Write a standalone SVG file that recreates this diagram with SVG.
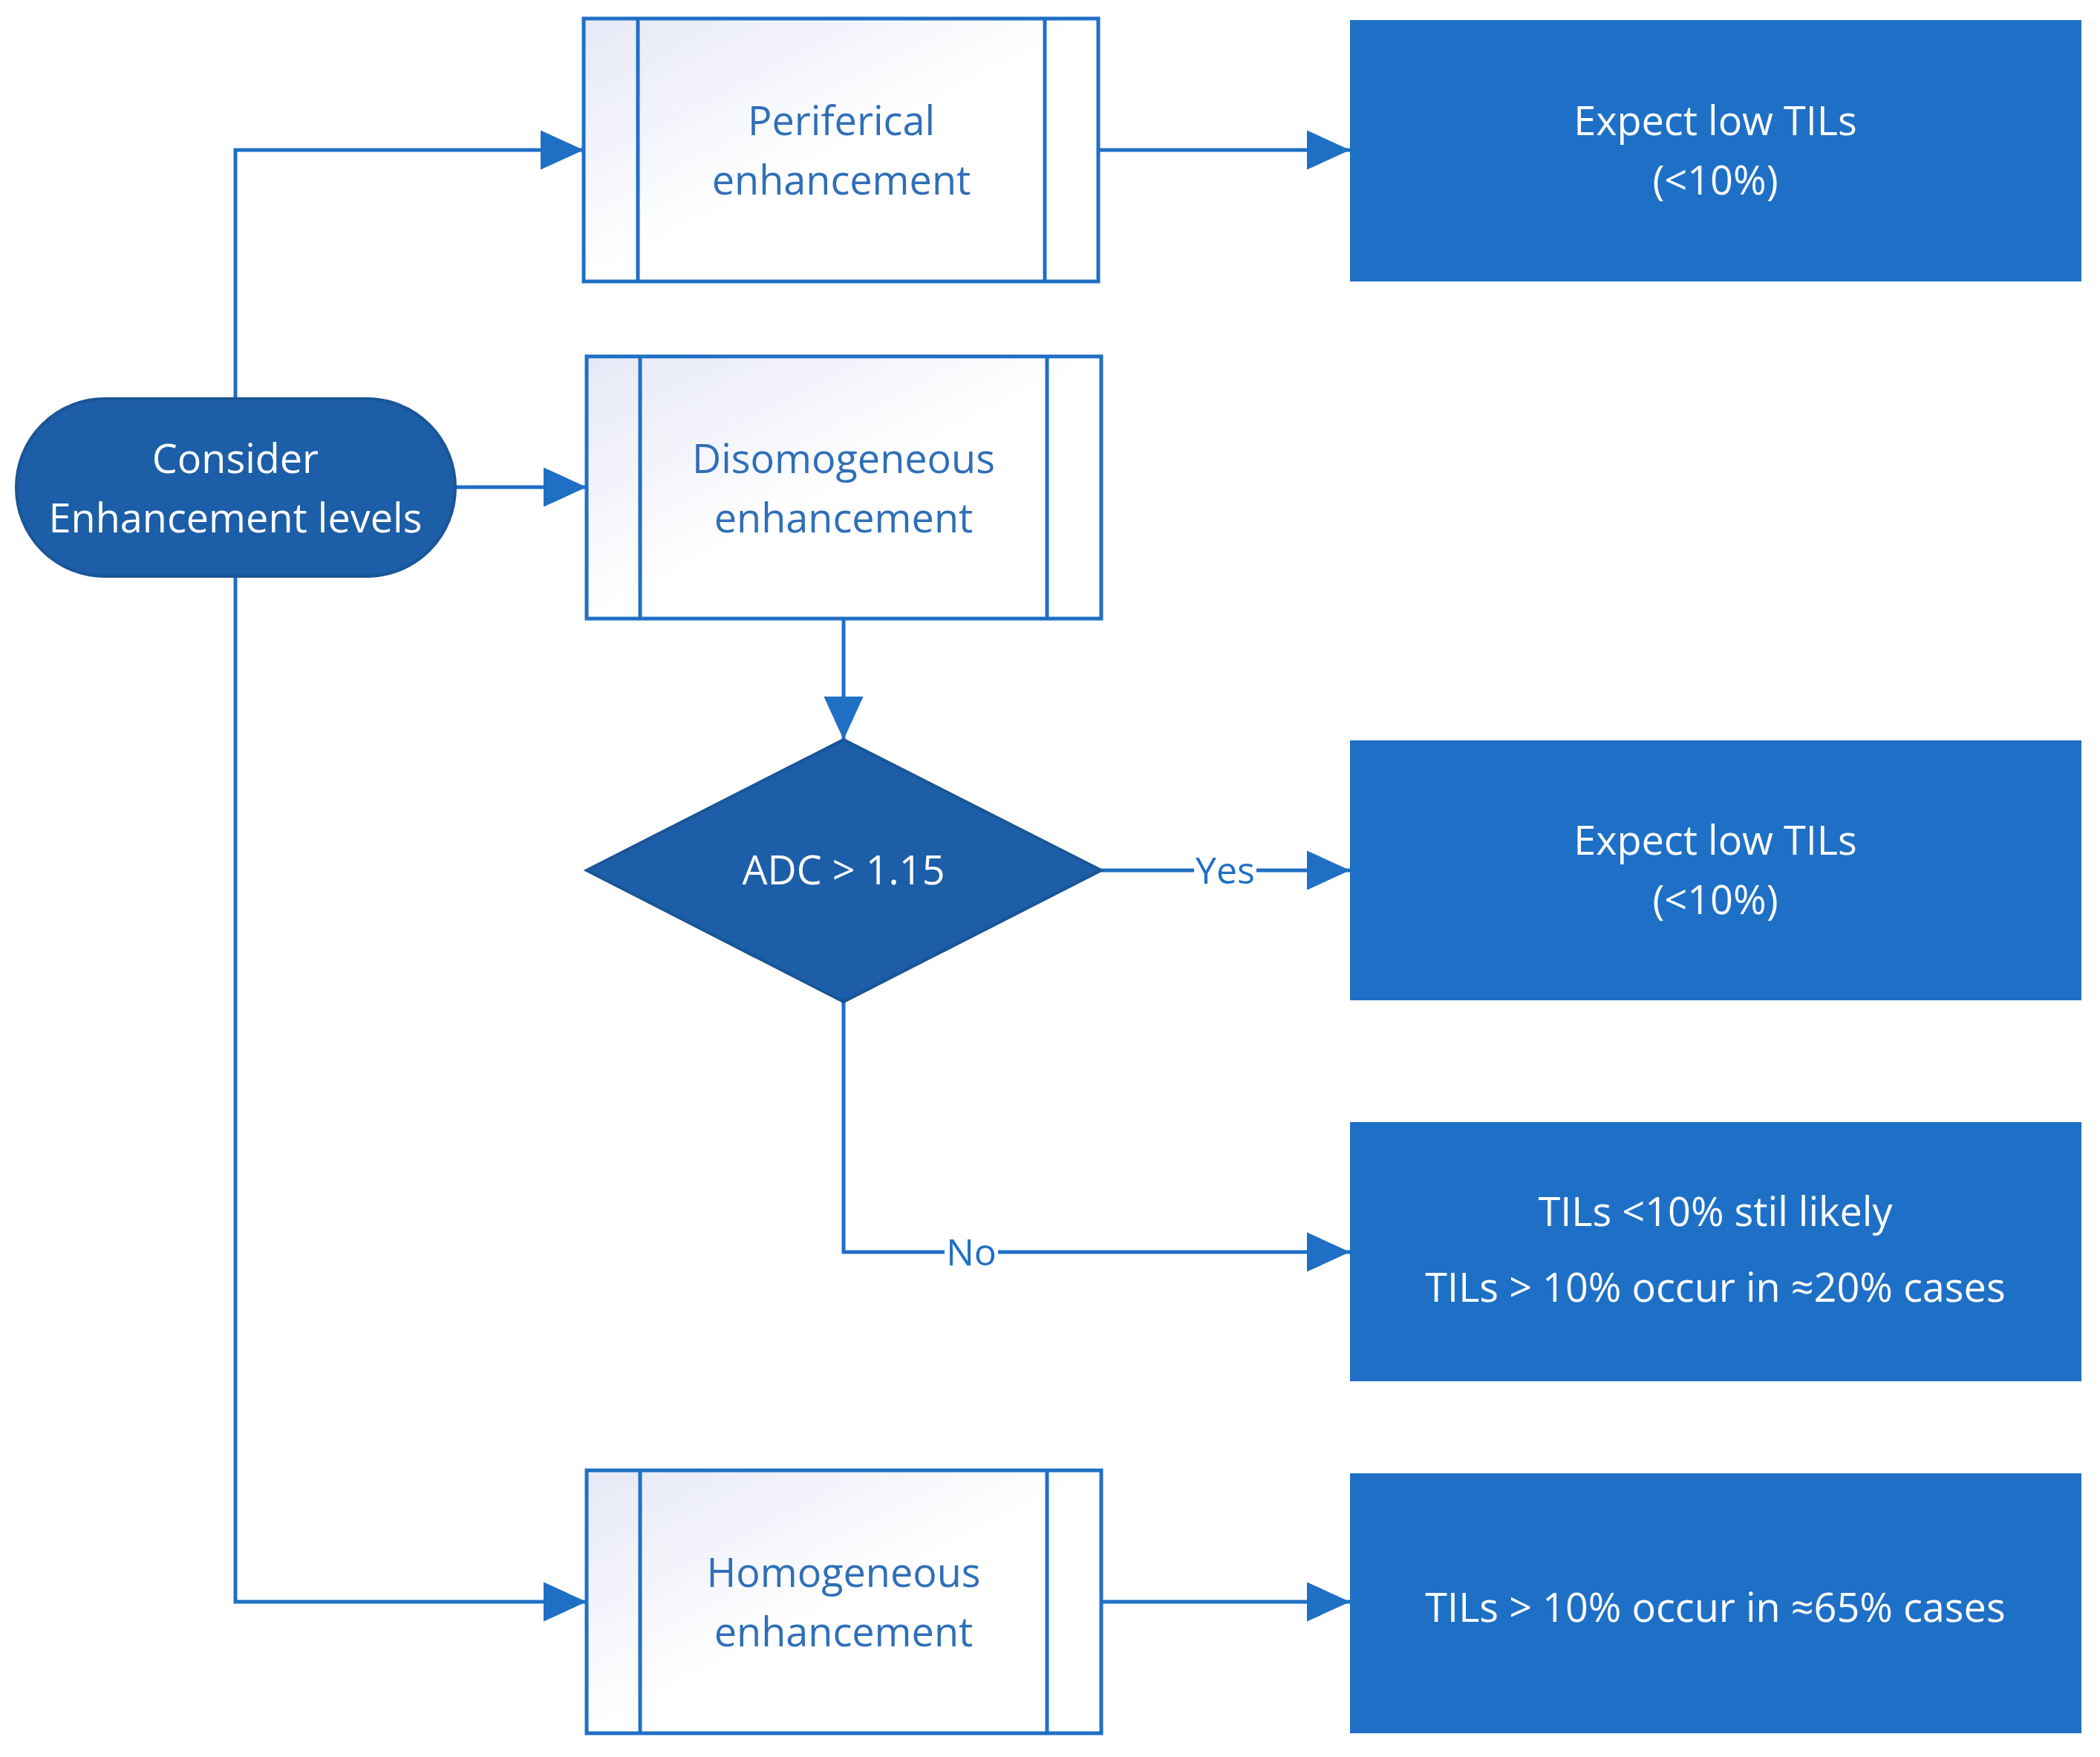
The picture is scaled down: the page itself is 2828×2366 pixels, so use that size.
<svg xmlns="http://www.w3.org/2000/svg" width="2828" height="2366" viewBox="0 0 2828 2366">
<style>
.line{fill:none;stroke:#1f6fc5;stroke-width:5}
.proc{fill:url(#g);stroke:#1f6fc5;stroke-width:5}
.res{fill:#1e70c6}
.dark{fill:#1c5ea8;stroke:#1a5596;stroke-width:4}
.tl{font-family:"Open Sans","Noto Sans",sans-serif;font-size:54px;fill:#2f6fb8;text-anchor:middle}
.tw{font-family:"Open Sans","Noto Sans",sans-serif;font-size:54px;fill:#ffffff;text-anchor:middle}
.lbl{font-family:"Open Sans","Noto Sans",sans-serif;font-size:50px;fill:#1f6fc5;text-anchor:middle}
</style>
<defs>
<linearGradient id="g" x1="0" y1="0" x2="1" y2="1"><stop offset="0" stop-color="#e6e8f6"/><stop offset="0.5" stop-color="#ffffff"/><stop offset="1" stop-color="#ffffff"/></linearGradient>
<marker id="a" markerWidth="12" markerHeight="12" refX="11" refY="6" orient="auto" markerUnits="userSpaceOnUse" viewBox="0 0 12 12"><path d="M0,0L12,6L0,12z" fill="#1f6fc5"/></marker>
<marker id="b" viewBox="0 0 12 12" refX="12" refY="6" markerWidth="58" markerHeight="58" markerUnits="userSpaceOnUse" orient="auto"><path d="M0,0.5L12,6L0,11.5z" fill="#1f6fc5"/></marker>
</defs>
<rect width="2828" height="2366" fill="#ffffff"/>
<g id="connectors">
<path class="line" d="M317,537V202H786" marker-end="url(#b)"/>
<path class="line" d="M1479,202H1818" marker-end="url(#b)"/>
<path class="line" d="M613,656H790" marker-end="url(#b)"/>
<path class="line" d="M1136,833V996" marker-end="url(#b)"/>
<path class="line" d="M1483,1172H1818" marker-end="url(#b)"/>
<path class="line" d="M1136,1349V1686H1818" marker-end="url(#b)"/>
<path class="line" d="M317,776V2157H790" marker-end="url(#b)"/>
<path class="line" d="M1483,2157H1818" marker-end="url(#b)"/>
<rect x="1608" y="1145" width="84" height="54" fill="#fff"/>
<text class="lbl" x="1650" y="1190">Yes</text>
<rect x="1272" y="1659" width="72" height="54" fill="#fff"/>
<text class="lbl" x="1308" y="1704">No</text>
</g>
<g id="start">
<rect class="dark" x="22" y="537" width="591" height="239" rx="119"/>
<text class="tw" x="317" y="637">Consider</text>
<text class="tw" x="317" y="717">Enhancement levels</text>
</g>
<g id="periferical">
<rect class="proc" x="786" y="25" width="693" height="354"/>
<path class="line" d="M859,25V379M1407,25V379"/>
<text class="tl" x="1133" y="182">Periferical</text>
<text class="tl" x="1133" y="262">enhancement</text>
</g>
<g id="disomogeneous">
<rect class="proc" x="790" y="480" width="693" height="353"/>
<path class="line" d="M862,480V833M1410,480V833"/>
<text class="tl" x="1136" y="637">Disomogeneous</text>
<text class="tl" x="1136" y="717">enhancement</text>
</g>
<g id="homogeneous">
<rect class="proc" x="790" y="1980" width="693" height="354"/>
<path class="line" d="M862,1980V2334M1410,1980V2334"/>
<text class="tl" x="1136" y="2137">Homogeneous</text>
<text class="tl" x="1136" y="2217">enhancement</text>
</g>
<g id="adc">
<path class="dark" d="M1136,996L1483,1172L1136,1349L790,1172z"/>
<text class="tw" x="1136" y="1191">ADC &gt; 1.15</text>
</g>
<g id="res1">
<rect class="res" x="1818" y="27" width="985" height="352"/>
<text class="tw" x="2310" y="182">Expect low TILs</text>
<text class="tw" x="2310" y="262">(&lt;10%)</text>
</g>
<g id="res2">
<rect class="res" x="1818" y="997" width="985" height="350"/>
<text class="tw" x="2310" y="1151">Expect low TILs</text>
<text class="tw" x="2310" y="1231">(&lt;10%)</text>
</g>
<g id="res3">
<rect class="res" x="1818" y="1511" width="985" height="349"/>
<text class="tw" x="2310" y="1651">TILs &lt;10% stil likely</text>
<text class="tw" x="2310" y="1753">TILs &gt; 10% occur in ≈20% cases</text>
</g>
<g id="res4">
<rect class="res" x="1818" y="1984" width="985" height="350"/>
<text class="tw" x="2310" y="2184">TILs &gt; 10% occur in ≈65% cases</text>
</g>
</svg>
